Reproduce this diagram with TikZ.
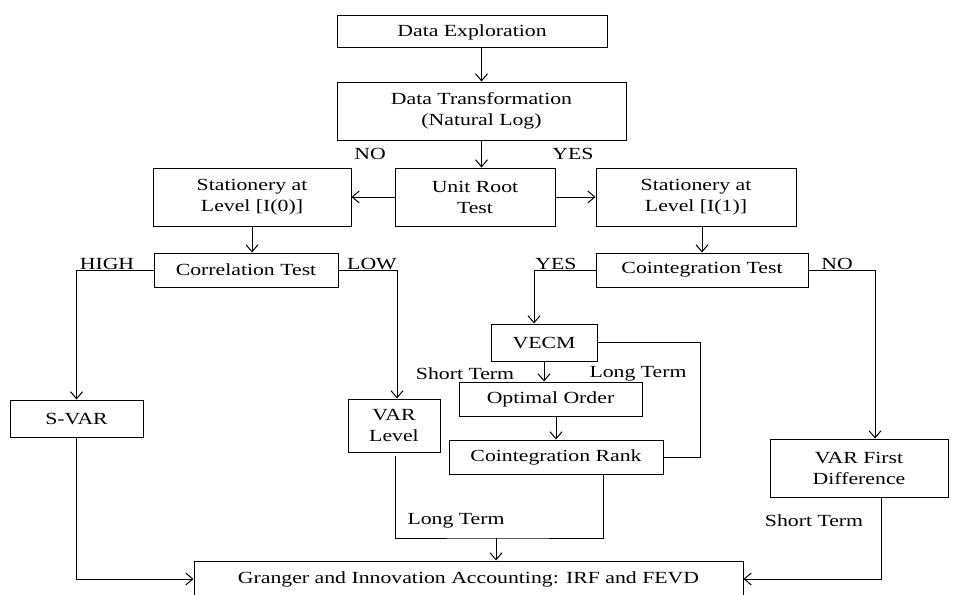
\documentclass[tikz,border=0pt]{standalone}
\usepackage{fontspec}
\setmainfont{Liberation Serif}[FakeStretch=1.28]
\usepackage{tikz}
\usetikzlibrary{calc,positioning,arrows.meta}
\tikzset{blk/.style={draw,rectangle,align=center,inner sep=0pt,text=black,font=\fontsize{17}{21}\selectfont},
>={Straight Barb[length=7pt,width=12pt]}}

\begin{document}
\begin{tikzpicture}[x=1pt,y=-1pt,line width=1pt,lbl/.style={inner sep=0pt,font=\fontsize{17}{21}\selectfont}]
			\path[use as bounding box,clip] (0,0) rectangle (960,594);
			\node[blk,minimum width=270,minimum height=32] (expl) at (472,32) {Data Exploration};
			\node[blk,minimum width=289,minimum height=58] (trans) at (481.5,111) {Data Transformation\\(Natural Log)};
			\node[blk,minimum width=160,minimum height=58] (unit) at (475,197) {Unit Root\\Test};
			\node[blk,minimum width=198,minimum height=58] (stat0) at (252,197) {Stationery at\\Level [I(0)]};
			\node[blk,minimum width=200,minimum height=58] (stat1) at (696,197) {Stationery at\\Level [I(1)]};
			\node[blk,minimum width=184,minimum height=34] (corr) at (246,270) {Correlation Test};
			\node[blk,minimum width=212,minimum height=34] (coint) at (702,270) {Cointegration Test};
			\node[blk,minimum width=106,minimum height=37] (vecm) at (544,342.5) {VECM};
			\node[blk,minimum width=183,minimum height=34] (opt) at (550.5,399) {Optimal Order};
			\node[blk,minimum width=214,minimum height=34] (rank) at (556,457) {Cointegration Rank};
			\node[blk,minimum width=133,minimum height=37] (svar) at (76.5,418.5) {S-VAR};
			\node[blk,minimum width=92,minimum height=53] (varlev) at (394,425.5) {VAR\\Level};
			\node[blk,minimum width=178,minimum height=58] (vardiff) at (859,468) {VAR First\\Difference};
			\node[blk,minimum width=549,minimum height=36] (granger) at (468.5,579) {Granger and Innovation Accounting: IRF and FEVD};

			\node[lbl] (no1) at (370,154) {NO};
			\node[lbl] (yes1) at (573,154) {YES};
			\node[lbl] (high) at (107,264) {HIGH};
			\node[lbl] (low) at (372,264) {LOW};
			\node[lbl] (yes2) at (556,264) {YES};
			\node[lbl] (no2) at (837,264) {NO};
			\node[lbl] (st1) at (465,374) {Short Term};
			\node[lbl] (lt1) at (638,374) {Long Term};
			\node[lbl] (lt2) at (456,521) {Long Term};
			\node[lbl] (st2) at (814,521) {Short Term};

			\coordinate (join) at (496,538);

			\draw[->] (trans.north |- expl.south) -- (trans.north);
			\draw[->] (trans.south) -- (trans.south |- unit.north);
			\draw[->] (unit.west) -- (stat0.east);
			\draw[->] (unit.east) -- (stat1.west);
			\draw[->] (stat0.south) -- (stat0.south |- corr.north);
			\draw[->] (coint.north |- stat1.south) -- (coint.north);
			\draw[->] (corr.west) -| (svar.north);
			\draw[->] (corr.east) -| ([xshift=3pt]varlev.north);
			\draw[->] (coint.west) -| ([xshift=-10pt]vecm.north);
			\draw[->] (coint.east) -| ([xshift=16pt]vardiff.north);
			\draw[->] (vecm.south) -- (vecm.south |- opt.north);
			\draw[->] (rank.north |- opt.south) -- (rank.north);
			\draw (vecm.east) -- ++(103,0) |- (rank.east);
			\draw ([yshift=-3pt,xshift=1pt]varlev.south) |- (join) -| ([xshift=47pt]rank.south);
			\draw[->] (join) -- (join |- granger.north);
			\draw[->] (svar.south) |- (granger.west);
			\draw[->] ([xshift=22pt]vardiff.south) |- (granger.east);
		\end{tikzpicture}
\end{document}
